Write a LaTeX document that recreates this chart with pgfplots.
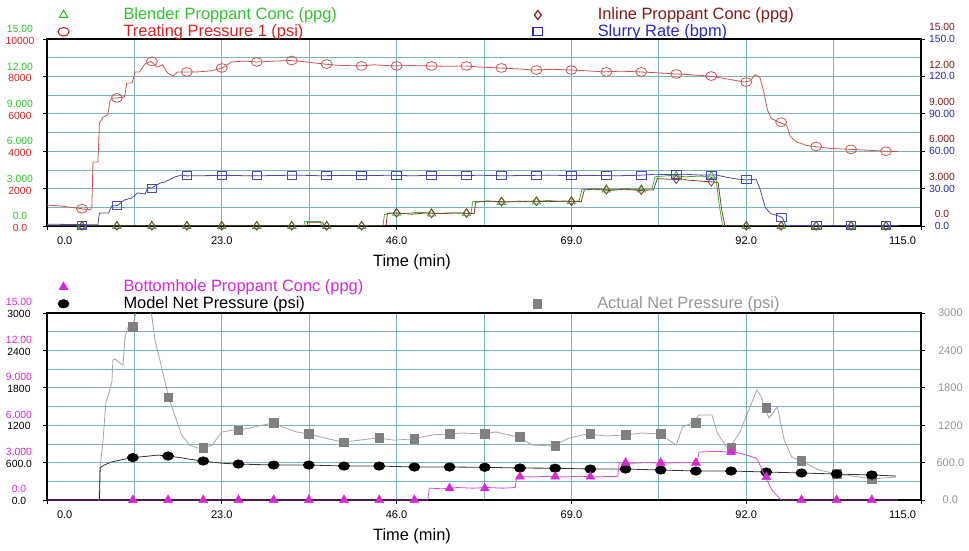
\documentclass[border=0pt]{standalone}
\usepackage{fontspec}
\setmainfont{Liberation Sans}
\usepackage{pgfplots}
\pgfplotsset{compat=1.18}
\definecolor{cG}{RGB}{50,195,50}
\definecolor{cGl}{RGB}{70,175,60}
\definecolor{cR}{RGB}{215,35,35}
\definecolor{cRl}{RGB}{205,85,85}
\definecolor{cDR}{RGB}{130,25,25}
\definecolor{cDRl}{RGB}{125,65,45}
\definecolor{cB}{RGB}{40,40,190}
\definecolor{cBl}{RGB}{75,75,175}
\definecolor{cM}{RGB}{215,40,215}
\definecolor{cMl}{RGB}{210,80,210}
\definecolor{cGr}{RGB}{128,128,128}
\definecolor{cGrl}{RGB}{165,165,165}
\definecolor{cGrt}{RGB}{150,150,150}
\definecolor{cGrid}{RGB}{125,180,185}
\pgfplotsset{
  panel/.style={scale only axis, width=655.5pt, height=140.25pt, xmin=0, xmax=115, anchor=south west, scaled y ticks=false, scaled x ticks=false},
  lab/.style={font=\fontsize{8.3}{10}\selectfont},
  plab/.style={font=\fontsize{7.8}{10}\selectfont},
  legfmt/.style={legend style={draw=none, fill=none, inner sep=0pt, outer sep=0pt, anchor=south west, at={(0,1)}, font=\fontsize{12.3}{14}\selectfont, nodes={inner sep=0pt}}, legend cell align=left,
    legend image code/.code={\draw[##1] plot coordinates {(3pt,0pt)}; \path[draw=none, fill=none] (0pt,-1pt) rectangle (48pt,1pt);}},
  frame/.style={
    xtick={0,23,46,69,92,115},
    xticklabels={\makebox[0pt][l]{\hspace*{7.5pt}0.0},23.0,46.0,69.0,92.0,\makebox[0pt][r]{115.0\hspace*{3.75pt}}},
    minor xtick={11.5,34.5,57.5,80.5,103.5},
    grid=both, major grid style={cGrid, line width=0.5pt}, minor grid style={cGrid, line width=0.5pt},
    axis line style={black, line width=1.4pt},
    xtick pos=bottom, ytick pos=left, tick align=outside, major tick length=3pt, minor tick length=0pt,
    tick style={black, line width=0.6pt},
    xticklabel style={lab, anchor=center, yshift=-8.25pt},
    xlabel={Time (min)}, xlabel style={at={(axis description cs:0.4176,0)}, anchor=center, yshift=-27pt, font=\fontsize{12.3}{14}\selectfont},
  },
  rightlab/.style={hide x axis, axis y line*=right, y axis line style={draw=none}, tick align=outside, major tick length=3pt, tick style={black, line width=0.6pt}},
}
\begin{document}
\begin{tikzpicture}
\useasboundingbox (0,0) rectangle (726.75pt,412.5pt);
\fill[white] (0,0) rectangle (726.75pt,412.5pt);

% ================= TOP PANEL =================
\begin{axis}[panel, frame, at={(35.25pt,243pt)}, ymin=0, ymax=10000,
  ytick={0,2000,4000,6000,8000,10000}, minor ytick={1000,3000,5000,7000,9000},
  yticklabels={{\textcolor{cG}{0.0}\\[-1.2pt]\textcolor{cR}{0.0}},{\textcolor{cG}{3.000}\\[-1.2pt]\textcolor{cR}{2000}},{\textcolor{cG}{6.000}\\[-1.2pt]\textcolor{cR}{4000}},{\textcolor{cG}{9.000}\\[-1.2pt]\textcolor{cR}{6000}},{\textcolor{cG}{12.00}\\[-1.2pt]\textcolor{cR}{8000}},{\textcolor{cG}{15.00}\\[-1.2pt]\textcolor{cR}{10000}}},
  yticklabel style={plab, align=center, anchor=center, xshift=-17.25pt, yshift=3.0pt},
  legfmt, legend style={xshift=8.25pt, yshift=0.2pt, row sep=2.2pt}]
\addlegendimage{only marks, mark=triangle, mark size=3.6pt, cG, line width=0.8pt}
\addlegendentry{\textcolor{cG}{Blender Proppant Conc (ppg)}}
\addlegendimage{only marks, mark=o, mark size=3.2pt, cR, line width=0.8pt, mark options={xscale=1.3}}
\addlegendentry{\textcolor{cR}{Treating Pressure 1 (psi)}}
% Treating Pressure 1 (psi)
\addplot[cRl, line width=0.6pt, forget plot] coordinates {(0,1120)(2,1060)(4.6,920)(5.7,860)(5.9,1000)(6.05,3420)(6.7,3420)(6.9,5500)(7.4,5830)(8.0,5940)(8.3,6700)(8.6,6850)(9.3,6850)(10.2,6900)(10.5,7650)(11.2,7650)(11.6,8240)(12.2,8240)(12.6,8500)(13.0,8700)(13.7,8800)(14.5,8500)(15.2,8620)(15.9,8180)(16.6,8020)(17.2,8240)(18.4,8240)(19.8,8240)(21.7,8300)(23.0,8450)(24.3,8770)(26.0,8820)(27.6,8770)(30,8820)(32,8850)(34,8780)(36.5,8660)(38,8600)(41,8560)(43,8620)(45.7,8560)(48,8580)(50.3,8560)(53,8540)(55,8560)(57,8500)(59.5,8450)(62,8400)(64.1,8340)(66.5,8380)(69,8340)(71,8300)(73.3,8240)(75.5,8280)(77.9,8240)(80,8200)(82.7,8130)(85,8080)(87.1,8020)(89,7900)(91.7,7700)(92.5,7750)(93.2,8100)(93.8,7950)(94.3,7200)(94.8,6200)(95.3,5750)(96.3,5550)(97.3,5400)(97.8,4800)(98.6,4500)(100,4300)(101.1,4250)(103,4150)(105.5,4100)(108,4050)(110.4,4000)(112,3980)};
\addplot[only marks, cRl, mark=o, mark size=3.3pt, mark options={xscale=1.25, line width=0.6pt}, forget plot] coordinates {(4.6,920)(9.2,6850)(13.8,8800)(18.4,8240)(23,8450)(27.6,8770)(32.2,8850)(36.8,8660)(41.4,8560)(46,8560)(50.6,8560)(55.2,8560)(59.8,8450)(64.4,8340)(69,8340)(73.6,8240)(78.2,8240)(82.8,8130)(87.4,8020)(92,7700)(96.6,5550)(101.2,4250)(105.8,4100)(110.4,4000)};
\end{axis}

% proppant concentrations (ppg), 0-15
\begin{axis}[panel, at={(35.25pt,243pt)}, ymin=0, ymax=15, hide x axis, hide y axis]
\addplot[cGl, line width=0.6pt] coordinates {(0,0)(33.8,0)(33.9,0.35)(36.0,0.35)(36.1,0)(44.2,0)(44.4,0.9)(45.0,1.05)(47,1.0)(49,1.1)(51,1.0)(53,1.05)(55.8,1.0)(56.0,1.95)(58,2.0)(60,1.9)(62,2.0)(64,1.95)(66,2.05)(68,1.95)(70.0,2.0)(70.4,2.95)(72,3.0)(74,2.9)(76,3.0)(78,2.9)(79.6,3.0)(80.0,3.95)(82,4.05)(84,3.95)(86,4.0)(88.0,3.9)(88.5,1.5)(88.9,0)(112,0)};
\addplot[cDRl, line width=0.6pt] coordinates {(0,0)(34.2,0)(34.3,0.3)(36.3,0.3)(36.4,0)(44.6,0)(44.8,1.0)(46,1.05)(48,0.95)(50,1.05)(52,1.0)(54,1.05)(56.2,1.0)(56.4,1.9)(58,2.0)(60,1.95)(62,1.95)(64,2.0)(66,1.95)(68,2.0)(70.3,1.95)(70.7,2.9)(72,2.95)(74,2.85)(76,2.95)(78,2.85)(79.8,2.9)(80.3,3.8)(82,3.75)(84,3.7)(86,3.6)(88.3,3.5)(88.8,1.2)(89.2,0)(112,0)};
\addplot[only marks, cGl, mark=triangle, mark size=3.6pt, mark options={line width=0.6pt}] coordinates {(4.6,0)(9.2,0)(13.8,0)(18.4,0)(23,0)(27.6,0)(32.2,0)(36.8,0)(41.4,0)(46,1.05)(50.6,1.0)(55.2,1.02)(59.8,1.92)(64.4,1.95)(69,1.97)(73.6,2.92)(78.2,2.92)(82.8,4.0)(87.4,3.98)(92,0)(96.6,0)(101.2,0)(105.8,0)(110.4,0)};
\addplot[only marks, cDRl, mark=diamond, mark size=3.2pt, mark options={line width=0.6pt}] coordinates {(4.6,0)(9.2,0)(13.8,0)(18.4,0)(23,0)(27.6,0)(32.2,0)(36.8,0)(41.4,0)(46,1.05)(50.6,1.0)(55.2,1.02)(59.8,1.95)(64.4,1.98)(69,1.98)(73.6,2.9)(78.2,2.88)(82.8,3.75)(87.4,3.55)(92,0)(96.6,0)(101.2,0)(105.8,0)(110.4,0)};
\end{axis}

% slurry rate (bpm), 0-150, right labels
\begin{axis}[panel, rightlab, at={(35.25pt,243pt)}, ymin=0, ymax=150,
  ytick={0,30,60,90,120,150},
  yticklabels={{\textcolor{cDR}{0.0}\\[-1.2pt]\textcolor{cB}{0.0}},{\textcolor{cDR}{3.000}\\[-1.2pt]\textcolor{cB}{30.00}},{\textcolor{cDR}{6.000}\\[-1.2pt]\textcolor{cB}{60.00}},{\textcolor{cDR}{9.000}\\[-1.2pt]\textcolor{cB}{90.00}},{\textcolor{cDR}{12.00}\\[-1.2pt]\textcolor{cB}{120.0}},{\textcolor{cDR}{15.00}\\[-1.2pt]\textcolor{cB}{150.0}}},
  yticklabel style={plab, align=center, anchor=center, xshift=12.75pt, yshift=4.5pt},
  legfmt, legend style={xshift=364.5pt, yshift=0.2pt, row sep=2.2pt}]
\addlegendimage{only marks, mark=diamond, mark size=3.4pt, cDR, line width=0.9pt}
\addlegendentry{\textcolor{cDR}{Inline Proppant Conc (ppg)}}
\addlegendimage{only marks, mark=square, mark size=3pt, cB, line width=0.9pt, mark options={xscale=1.2}}
\addlegendentry{\textcolor{cB}{Slurry Rate (bpm)}}
\addplot[cBl, line width=0.6pt, forget plot] coordinates {(0,1.5)(3,1.2)(6.7,1.0)(6.9,10.4)(8.1,10.4)(8.5,16)(9.3,16.5)(10.2,20.9)(11.2,22.5)(11.9,26.5)(12.9,25.7)(13.3,31)(13.8,30.5)(14.9,34.5)(15.5,35.3)(16.8,39.3)(17.7,40.9)(18.4,40.2)(21,40.4)(24,40.6)(27,40.2)(30,40.5)(33,40.8)(36,40.3)(39,40.6)(42,40.4)(45,40.7)(48,40.3)(51,40.6)(54,40.4)(57,40.7)(60,40.3)(63,40.5)(66,40.8)(69,40.4)(72,40.6)(75,40.3)(78,40.7)(80,41.5)(82,41.2)(84,41.5)(86,40.8)(88,41.0)(89.5,39.0)(91,37.5)(92,37.0)(93.3,37.5)(93.8,30)(94.5,15)(95.2,10)(96.3,8)(96.8,6.5)(97.2,0.3)(100,0.3)(105,0.2)(112,0.2)};
\addplot[only marks, cBl, mark=square, mark size=3pt, mark options={xscale=1.2, line width=0.6pt}, forget plot] coordinates {(4.6,0.5)(9.2,16.5)(13.8,30.5)(18.4,40.2)(23,40.5)(27.6,40.3)(32.2,40.6)(36.8,40.4)(41.4,40.5)(46,40.6)(50.6,40.5)(55.2,40.5)(59.8,40.4)(64.4,40.6)(69,40.5)(73.6,40.4)(78.2,40.6)(82.8,41.2)(87.4,40.8)(92,37)(96.6,7)(101.2,0.3)(105.8,0.2)(110.4,0.2)};
\end{axis}

% ================= BOTTOM PANEL =================
\begin{axis}[panel, frame, at={(35.25pt,37.5pt)}, ymin=0, ymax=3000,
  ytick={0,600,1200,1800,2400,3000}, minor ytick={300,900,1500,2100,2700},
  yticklabels={{\textcolor{cM}{0.0}\\[-1.2pt]0.0},{\textcolor{cM}{3.000}\\[-1.2pt]600.0},{\textcolor{cM}{6.000}\\[-1.2pt]1200},{\textcolor{cM}{9.000}\\[-1.2pt]1800},{\textcolor{cM}{12.00}\\[-1.2pt]2400},{\textcolor{cM}{15.00}\\[-1.2pt]3000}},
  yticklabel style={plab, align=center, anchor=center, xshift=-18pt, yshift=3.6pt},
  legfmt, legend style={xshift=8.25pt, yshift=1.7pt, row sep=2.2pt}]
\addlegendimage{only marks, mark=triangle*, mark size=3.8pt, cM}
\addlegendentry{\textcolor{cM}{Bottomhole Proppant Conc (ppg)}}
\addlegendimage{only marks, mark=*, mark size=3.2pt, black, mark options={xscale=1.3}}
\addlegendentry{Model Net Pressure (psi)}
% Actual net pressure
\addplot[cGrl, line width=0.6pt, forget plot] coordinates {(6.83,0)(6.97,513)(7.36,930)(7.75,1572)(8.0,1652)(8.54,1893)(8.67,2246)(8.94,2262)(9.6,2197)(10.0,2165)(10.25,2598)(10.6,2759)(11.0,2800)(11.3,2790)(11.8,3050)(12.5,3200)(13.3,3100)(13.8,2950)(14.2,2570)(14.85,2245)(16.0,1650)(16.8,1365)(17.7,1040)(18.8,880)(19.8,835)(20.6,835)(21.7,880)(23,1090)(24.3,1120)(25.2,1120)(26.7,1155)(28.3,1200)(29.8,1235)(31.3,1155)(32.9,1090)(34.4,1060)(36.5,995)(38.9,930)(41.1,960)(43.5,995)(45.7,960)(48.1,980)(50.7,1043)(52.7,1059)(54.7,1075)(57.3,1059)(59.1,1091)(61.9,1011)(63.9,882)(66.5,866)(68.7,994)(71.1,1059)(73.6,1027)(76.0,1043)(78.3,1075)(80.6,1059)(82.8,882)(83.6,1171)(84.9,1235)(85.8,1363)(87.5,1363)(88.2,1075)(89.4,850)(89.8,834)(91.1,1075)(93.4,1764)(94.0,1652)(94.4,1476)(95.0,1315)(96.1,1492)(97.0,962)(98.0,690)(99.2,626)(101.6,481)(104.0,417)(106.8,369)(108.6,337)(111.7,369)};
\addplot[only marks, cGr, mark=square*, mark size=3.2pt, forget plot] coordinates {(11.3,2775)(15.93,1650)(20.56,835)(25.19,1120)(29.82,1235)(34.45,1060)(39.08,930)(43.71,995)(48.34,980)(52.97,1059)(57.6,1059)(62.23,1011)(66.86,866)(71.49,1059)(76.12,1043)(80.75,1059)(85.38,1235)(90.01,834)(94.64,1476)(99.27,626)(103.9,417)(108.53,337)};
% Model net pressure
\addplot[black!80, line width=0.6pt, forget plot] coordinates {(6.9,0)(7.0,520)(7.5,560)(8.5,610)(10,650)(11.3,680)(13,700)(14.5,720)(15.93,706)(17.5,680)(19,650)(20.56,626)(23,590)(25.19,577)(29.82,561)(34.45,561)(39.08,545)(43.71,545)(48.34,529)(52.97,529)(57.6,525)(62.23,513)(66.86,510)(71.49,497)(76.12,497)(80.75,481)(85.38,465)(90.01,465)(94.64,449)(99.27,433)(103.9,417)(108.53,401)(111.7,385)};
\addplot[only marks, black, mark=*, mark size=3.2pt, mark options={xscale=1.3}, forget plot] coordinates {(11.3,680)(15.93,706)(20.56,626)(25.19,577)(29.82,561)(34.45,561)(39.08,545)(43.71,545)(48.34,529)(52.97,529)(57.6,525)(62.23,513)(66.86,510)(71.49,497)(76.12,497)(80.75,481)(85.38,465)(90.01,465)(94.64,449)(99.27,433)(103.9,417)(108.53,401)};
\end{axis}

% bottomhole conc (ppg) 0-15, right labels in psi
\begin{axis}[panel, rightlab, at={(35.25pt,37.5pt)}, ymin=0, ymax=15,
  ytick={0,3,6,9,12,15},
  yticklabels={0.0,600.0,1200,1800,2400,3000},
  yticklabel style={lab, text=cGrt, anchor=center, xshift=19pt},
  legfmt, legend style={xshift=364.5pt, yshift=1.7pt}]
\addlegendimage{only marks, mark=square*, mark size=3.2pt, cGr}
\addlegendentry{\textcolor{cGrt}{Actual Net Pressure (psi)}}
\addplot[cMl, line width=0.6pt, forget plot] coordinates {(0,0)(50.1,0)(50.3,0.95)(52,0.9)(54,1.0)(56,0.95)(58,1.0)(60,0.95)(61.6,1.0)(61.8,1.87)(64,1.85)(66,1.9)(68,1.85)(70,1.9)(72,1.85)(75.1,1.9)(75.3,2.99)(77,2.95)(79,3.0)(81,2.95)(83,3.0)(85.5,2.98)(85.8,3.85)(88,3.9)(90,3.85)(91.1,3.77)(93.3,3.37)(93.7,2.97)(94.5,1.84)(95.4,0.8)(96.6,0)(112,0)};
\addplot[only marks, cM, mark=triangle*, mark size=3.8pt, forget plot] coordinates {(11.3,0)(15.93,0)(20.56,0)(25.19,0)(29.82,0)(34.45,0)(39.08,0)(43.71,0)(48.34,0)(52.97,0.94)(57.6,0.94)(62.23,1.87)(66.86,1.87)(71.49,1.87)(76.12,2.99)(80.75,2.99)(85.38,2.99)(90.01,3.85)(94.64,1.84)(99.27,0)(103.9,0)(108.53,0)};
\end{axis}
\end{tikzpicture}
\end{document}
